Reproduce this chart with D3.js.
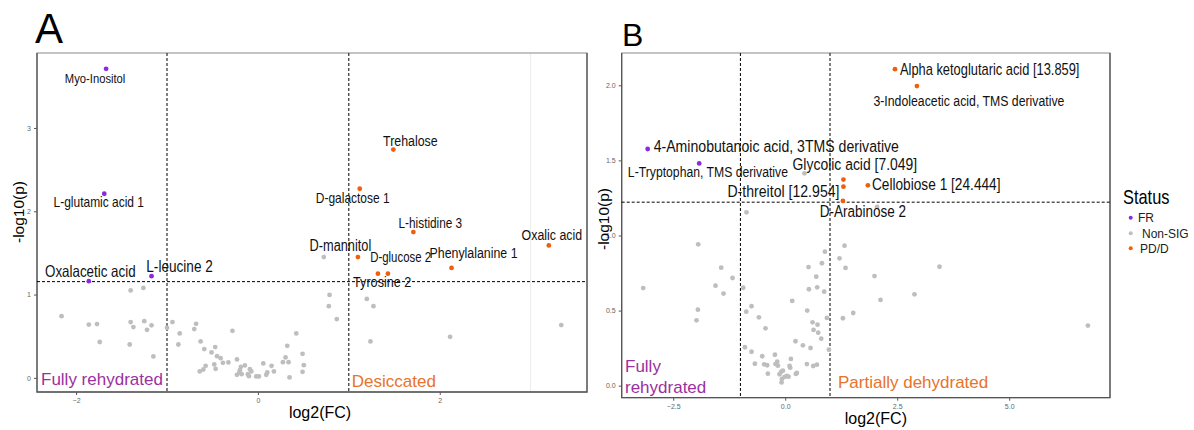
<!DOCTYPE html>
<html>
<head>
<meta charset="utf-8">
<script src="https://cdn.jsdelivr.net/npm/d3@7"></script>
<style>
  body { margin: 0; background: #fff; }
  text { font-family: "Liberation Sans", Arial, sans-serif; }
</style>
</head>
<body>
<svg id="chart"></svg>
<script>
// ---- panel A data ----
var namesA = ["Myo-Inositol", "L-glutamic acid 1", "Oxalacetic acid", "L-leucine 2", "Trehalose", "D-galactose 1",
  "L-histidine 3", "Oxalic acid", "D-mannitol", "Phenylalanine 1", "D-glucose 2", "Tyrosine 2"];
var fcA = [-1.67, -1.69, -1.86, -1.17, 1.49, 1.12, 1.71, 3.20, 1.10, 2.13, 1.43, 1.32];
var pA = [3.71, 2.21, 1.16, 1.22, 2.74, 2.27, 1.75, 1.59, 1.45, 1.32, 1.25, 1.25];
var statusA = ["FR", "FR", "FR", "FR", "PD/D", "PD/D", "PD/D", "PD/D", "PD/D", "PD/D", "PD/D", "PD/D"];

var fcA_ns = [-2.16, -1.86, -1.77, -1.74, -1.40, -1.26, -1.40, -1.37, -1.25, -1.22, -1.17, -1.41, -1.15, -1.0, -0.94,
  -0.86, -0.875, -0.68, -0.70, -0.63, -0.59, -0.51, -0.47, -0.45, -0.41, -0.385, -0.325, -0.28, -0.23, -0.575, -0.60,
  -0.64, -0.48, -0.465, -0.187, -0.198, -0.204, -0.231, -0.179, -0.143, -0.11, -0.099, -0.088, -0.073, -0.018, 0.011,
  0.059, 0.092, 0.15, 0.176, 0.103, 0.275, 0.304, 0.337, 0.323, 0.422, 0.491, 0.505, 0.491, 0.348, 0.725, 0.788, 0.78,
  0.868, 1.198, 1.271, 1.238, 2.114, 3.337];
var pA_ns = [0.74, 0.64, 0.645, 0.43, 1.05, 1.08, 0.67, 0.61, 0.68, 0.576, 0.63, 0.40, 0.257, 0.60, 0.67,
  0.533, 0.40, 0.648, 0.585, 0.437, 0.345, 0.305, 0.369, 0.26, 0.236, 0.18, 0.185, 0.564, 0.221, 0.144, 0.10,
  0.077, 0.161, 0.108, 0.132, 0.092, 0.065, 0.036, 0.044, 0.149, 0.044, 0.02, 0.104, 0.077, 0.017, 0.017,
  0.173, 0.036, 0.144, 0.077, 0.065, 0.188, 0.245, 0.188, 0.384, 0.533, 0.288, 0.152, 0.072, 0.005, 1.45, 0.996, 0.86,
  0.705, 0.948, 0.86, 0.437, 0.492, 0.633];

// ---- panel B data ----
var namesB = ["Alpha ketoglutaric acid [13.859]", "3-Indoleacetic acid, TMS derivative", "4-Aminobutanoic acid, 3TMS derivative",
  "L-Tryptophan, TMS derivative", "Glycolic acid [7.049]", "D-threitol [12.954]", "Cellobiose 1 [24.444]", "D-Arabinose 2"];
var fcB = [2.45, 2.94, -3.07, -1.92, 1.30, 1.30, 1.846, 1.288];
var pB = [2.107, 1.995, 1.576, 1.48, 1.372, 1.325, 1.334, 1.23];
var statusB = ["PD/D", "PD/D", "FR", "FR", "PD/D", "PD/D", "PD/D", "PD/D"];

var fcB_ns = [-0.864, 0.43, 2.05, -1.942, -1.429, -1.176, -1.556, -1.377, -3.17, -1.949, -1.98, -0.9375, -0.752, -0.87,
  -0.587, -0.9, -0.752, -0.677, -0.44, -0.513, -0.469, -0.402, -0.387, -0.23, -0.217, -0.179, -0.163, -0.127, -0.089,
  -0.052, -0.074, -0.082, -0.015, 0.037, 0.097, 0.127, 0.112, 0.074, 0.156, 0.23, 0.238, 0.26, 0.395, 0.484, 0.491,
  0.52, 0.529, 0.565, 0.61, 0.632, 0.625, 0.692, 0.714, 0.721, 0.737, 0.707, 0.804, 0.819, 0.87, 0.886, 0.93, 0.975,
  1.212, 1.288, 1.324, 1.346, 1.518, 1.993, 2.127, 3.444, 2.886, 6.757];
var pB_ns = [1.154, 1.414, 1.19, 0.941, 0.786, 0.717, 0.666, 0.613, 0.65, 0.506, 0.435, 0.652, 0.529, 0.493,
  0.455, 0.256, 0.226, 0.146, 0.382, 0.196, 0.142, 0.136, 0.08, 0.206, 0.144, 0.16, 0.133, 0.076, 0.093,
  0.1, 0.045, 0.022, 0.058, 0.065, 0.131, 0.178, 0.12, 0.06, 0.564, 0.296, 0.078, 0.085, 0.269, 0.144, 0.5,
  0.79, 0.642, 0.251, 0.422, 0.371, 0.131, 0.726, 0.655, 0.406, 0.353, 0.14, 0.313, 0.815, 0.626, 0.892, 0.451, 0.24,
  0.848, 0.449, 0.932, 0.784, 0.484, 0.73, 0.571, 0.792, 0.608, 0.4];

var statusLevels = ["FR", "Non-SIG", "PD/D"];

// label placement: [dx, dy, anchor, apparent size] in pixels
var nudgeA = {
  "Myo-Inositol": [-11, 14, "middle", 11.2], "L-glutamic acid 1": [-5.5, 13.5, "middle", 12],
  "Oxalacetic acid": [1.5, -4.5, "middle", 13.4], "L-leucine 2": [28, -4.5, "middle", 13.6],
  "Trehalose": [17, -4, "middle", 12.4], "D-galactose 1": [-7, 14, "middle", 12],
  "L-histidine 3": [17, -4.5, "middle", 11.8], "Oxalic acid": [3, -5, "middle", 12.4],
  "D-mannitol": [-17.5, -6, "middle", 12.8], "Phenylalanine 1": [22, -9.5, "middle", 12.4],
  "D-glucose 2": [12.7, -11.7, "middle", 11.4], "Tyrosine 2": [4.3, 13.3, "middle", 12.6]
};
var nudgeB = {
  "Alpha ketoglutaric acid [13.859]": [5, 5.5, "start", 12.9], "3-Indoleacetic acid, TMS derivative": [52, 20, "middle", 12.3],
  "4-Aminobutanoic acid, 3TMS derivative": [6, 2.7, "start", 14.1], "L-Tryptophan, TMS derivative": [8.7, 14, "middle", 12.2],
  "Glycolic acid [7.049]": [11.4, -9.7, "middle", 13.9], "D-threitol [12.954]": [-60, 10, "middle", 14.1],
  "Cellobiose 1 [24.444]": [4, 4.7, "start", 13.7], "D-Arabinose 2": [20, 15.7, "middle", 13.5]
};

var colour = d3.scaleOrdinal().domain(statusLevels).range(["#8a2be2", "#bebebe", "#ef5f0c"]);
var narrow = 0.82; // no narrow font installed, so squeeze the label text

var svg = d3.select("#chart").attr("width", 1194).attr("height", 430);

function drawPanel(cfg) {
  var x = d3.scaleLinear().domain(cfg.xdom).range([cfg.left, cfg.right]);
  var y = d3.scaleLinear().domain(cfg.ydom).range([cfg.bottom, cfg.top]);
  var g = svg.append("g");

  if (cfg.grid) {
    g.append("line").attr("x1", x(cfg.grid)).attr("x2", x(cfg.grid))
      .attr("y1", cfg.top).attr("y2", cfg.bottom).attr("stroke", "#ececec").attr("stroke-width", 1);
  }

  // axes
  var xAxis = d3.axisBottom(x).tickValues(cfg.xticks).tickFormat(cfg.xfmt).tickSize(3).tickPadding(3);
  var yAxis = d3.axisLeft(y).tickValues(cfg.yticks).tickFormat(cfg.yfmt).tickSize(3).tickPadding(3);
  var gx = g.append("g").attr("transform", "translate(0," + cfg.bottom + ")").call(xAxis);
  var gy = g.append("g").attr("transform", "translate(" + cfg.left + ",0)").call(yAxis);
  [gx, gy].forEach(function(a) {
    a.select(".domain").remove();
    a.selectAll(".tick line").attr("stroke", "#555");
    a.selectAll(".tick text").attr("fill", "#666").style("font-size", "7px");
  });

  // panel frame
  g.append("rect").attr("x", cfg.left).attr("y", cfg.top)
    .attr("width", cfg.right - cfg.left).attr("height", cfg.bottom - cfg.top)
    .attr("fill", "none").attr("stroke", "#8a8a8a").attr("stroke-width", 1);
  g.append("path").attr("d", "M" + cfg.left + "," + cfg.top + "V" + cfg.bottom + "H" + cfg.right + "V" + cfg.top)
    .attr("fill", "none").attr("stroke", "#555").attr("stroke-width", 1.3);

  // threshold lines
  [-1, 1].forEach(function(v) {
    g.append("line").attr("x1", x(v)).attr("x2", x(v)).attr("y1", cfg.top).attr("y2", cfg.bottom)
      .attr("stroke", "#000").attr("stroke-width", 1).attr("stroke-dasharray", "3,2");
  });
  g.append("line").attr("x1", cfg.left).attr("x2", cfg.right).attr("y1", y(cfg.pcut)).attr("y2", y(cfg.pcut))
    .attr("stroke", "#000").attr("stroke-width", 1).attr("stroke-dasharray", "3,2");

  // non significant points
  var ns = cfg.nsFc.map(function(v, i) { return {fc: v, p: cfg.nsP[i]}; });
  g.selectAll(".ns").data(ns).enter().append("circle")
    .attr("cx", function(d) { return x(d.fc); }).attr("cy", function(d) { return y(d.p); })
    .attr("r", 2.4).attr("fill", colour("Non-SIG"));

  // significant points + labels
  var sig = cfg.names.map(function(n, i) { return {name: n, fc: cfg.fc[i], p: cfg.p[i], status: cfg.status[i]}; });
  g.selectAll(".sig").data(sig).enter().append("circle")
    .attr("cx", function(d) { return x(d.fc); }).attr("cy", function(d) { return y(d.p); })
    .attr("r", 2.4).attr("fill", function(d) { return colour(d.status); });
  g.selectAll(".lab").data(sig).enter().append("text").attr("class", "lab")
    .attr("transform", function(d) {
      var n = cfg.nudge[d.name];
      return "translate(" + (x(d.fc) + n[0]) + "," + (y(d.p) + n[1]) + ") scale(" + narrow + ",1)";
    })
    .attr("text-anchor", function(d) { return cfg.nudge[d.name][2]; })
    .style("font-size", function(d) { return (cfg.nudge[d.name][3] / narrow).toFixed(1) + "px"; })
    .attr("fill", "#111")
    .text(function(d) { return d.name; });

  // axis titles
  g.append("text").attr("x", (cfg.left + cfg.right) / 2 + cfg.xtitleShift).attr("y", cfg.xtitleY)
    .attr("text-anchor", "middle").style("font-size", "16px").text("log2(FC)");
  g.append("text").attr("transform", "translate(" + cfg.ytitleX + "," + cfg.ytitleY + ") rotate(-90)")
    .attr("text-anchor", "middle").style("font-size", "15.5px").text("-log10(p)");

  // panel letter
  g.append("text").attr("x", cfg.letterX).attr("y", cfg.letterY)
    .style("font-size", cfg.letterSize + "px").text(cfg.letter);
  return {x: x, y: y, g: g};
}

var A = drawPanel({
  left: 37, right: 587, top: 53, bottom: 392,
  xdom: [-2.43, 3.62], ydom: [-0.17, 3.9], grid: 3,
  xticks: [-2, 0, 2], yticks: [0, 1, 2, 3], xfmt: d3.format("d"), yfmt: d3.format("d"),
  pcut: 1.155, nsFc: fcA_ns, nsP: pA_ns, names: namesA, fc: fcA, p: pA, status: statusA,
  nudge: nudgeA, xtitleShift: 8, xtitleY: 418, ytitleX: 24, ytitleY: 212,
  letter: "A", letterX: 35, letterY: 43, letterSize: 42
});
A.g.append("text").attr("x", 41).attr("y", 385).attr("fill", "#9b30a0").style("font-size", "17px").text("Fully rehydrated");
A.g.append("text").attr("x", A.x(1) + 3).attr("y", 387).attr("fill", "#e8732a").style("font-size", "17px").text("Desiccated");

var B = drawPanel({
  left: 621.7, right: 1110, top: 53, bottom: 397.7,
  xdom: [-3.65, 7.25], ydom: [-0.08, 2.215], grid: null,
  xticks: [-2.5, 0, 2.5, 5], yticks: [0, 0.5, 1, 1.5, 2], xfmt: d3.format(".1f"), yfmt: d3.format(".1f"),
  pcut: 1.2218, nsFc: fcB_ns, nsP: pB_ns, names: namesB, fc: fcB, p: pB, status: statusB,
  nudge: nudgeB, xtitleShift: 10, xtitleY: 424, ytitleX: 609, ytitleY: 219,
  letter: "B", letterX: 622, letterY: 46, letterSize: 32
});
B.g.append("text").attr("x", 625).attr("y", 372).attr("fill", "#9b30a0").style("font-size", "17px").text("Fully");
B.g.append("text").attr("x", 625).attr("y", 393).attr("fill", "#9b30a0").style("font-size", "17px").text("rehydrated");
B.g.append("text").attr("x", B.x(1) + 8).attr("y", 388).attr("fill", "#e8732a").style("font-size", "17px").text("Partially dehydrated");

// legend
var leg = svg.append("g");
leg.append("text").attr("transform", "translate(1123,204) scale(" + narrow + ",1)").style("font-size", "20px").text("Status");
var legY = [217.7, 233.3, 248.3], legTx = [1138, 1142, 1140];
statusLevels.forEach(function(s, i) {
  leg.append("circle").attr("cx", 1130.7).attr("cy", legY[i]).attr("r", 2).attr("fill", colour(s));
  leg.append("text").attr("x", legTx[i]).attr("y", legY[i] + 4.5).style("font-size", "12px").attr("fill", "#222").text(s);
});
</script>
</body>
</html>
